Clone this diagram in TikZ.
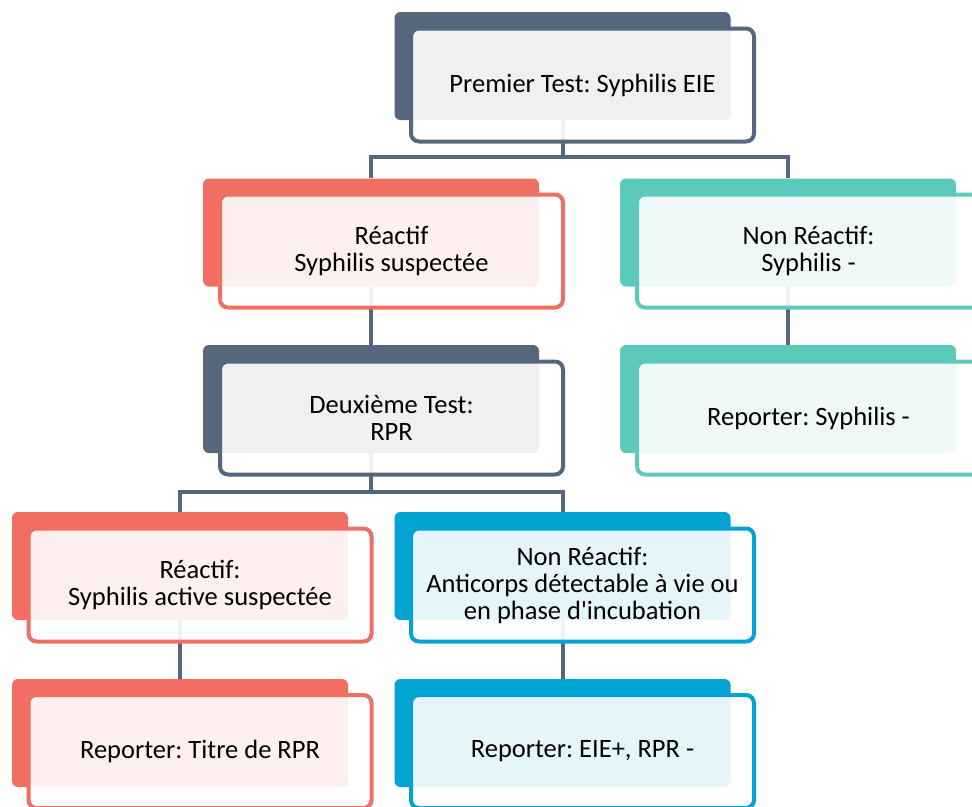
\documentclass[tikz,border=0pt]{standalone}
\usepackage{fontspec}
\newfontfamily\cardfont{Carlito}
\usetikzlibrary{backgrounds}
\definecolor{slate}{RGB}{86,103,125}
\definecolor{coral}{RGB}{242,110,98}
\definecolor{teal}{RGB}{93,201,187}
\definecolor{sky}{RGB}{0,163,209}
\frenchspacing

\begin{document}
\begin{tikzpicture}[x=1pt,y=-1pt,
    back/.style={fill=#1, rounded corners=6pt, minimum width=336pt, minimum height=108pt, inner sep=0pt},
    card/.style={draw=#1, line width=4pt, fill=white, fill opacity=0.9, text opacity=1,
        rounded corners=8pt, minimum width=343pt, minimum height=113pt, inner sep=0pt,
        align=center, font=\cardfont\fontsize{26.5}{27}\selectfont},
    link/.style={slate, line width=4pt}]
            \useasboundingbox (0,0) rectangle (972,806);

            % back plates
            \node[back=slate] (premB) at (562.5,66) {};
            \node[back=coral] (reacB) at (371,232.5) {};
            \node[back=teal] (nonrB) at (788,232.5) {};
            \node[back=slate] (deuxB) at (371,399) {};
            \node[back=teal] (repnB) at (788,399) {};
            \node[back=coral] (actB) at (180,566) {};
            \node[back=sky] (incB) at (562.5,566) {};
            \node[back=coral] (titB) at (180,733) {};
            \node[back=sky] (eieB) at (562.5,733) {};

            % cards
            \node[card=slate] (prem) at (582.5,85) {Premier Test: Syphilis EIE};
            \node[card=coral] (reac) at (391.5,251) {Réactif\\Syphilis suspectée};
            \node[card=teal] (nonr) at (808.5,251) {Non Réactif:\\Syphilis -};
            \node[card=slate] (deux) at (391.5,418) {Deuxième Test:\\RPR};
            \node[card=teal] (repn) at (808.5,418) {Reporter: Syphilis -};
            \node[card=coral] (act) at (200,585) {Réactif:\\Syphilis active suspectée};
            \node[card=sky] (inc) at (582.5,585) {Non Réactif:\\Anticorps détectable à vie ou\\en phase d'incubation};
            \node[card=coral] (tit) at (200,751.5) {Reporter: Titre de RPR};
            \node[card=sky] (eie) at (582.5,751.5) {Reporter: EIE+, RPR -};

            % connectors
            \begin{scope}[on background layer]
            \draw[link] (reacB.north) -- ++(0,-21) -| (premB.south);
            \draw[link] (nonrB.north) -- ++(0,-21) -| (premB.south);
            \draw[link] (reacB.south) -- (deuxB.north);
            \draw[link] (nonrB.south) -- (repnB.north);
            \draw[link] (actB.north) -- ++(0,-20) -| (deuxB.south);
            \draw[link] (incB.north) -- ++(0,-20) -| (deuxB.south);
            \draw[link] (actB.south) -- (titB.north);
            \draw[link] (incB.south) -- (eieB.north);
            \end{scope}

        \end{tikzpicture}
\end{document}
